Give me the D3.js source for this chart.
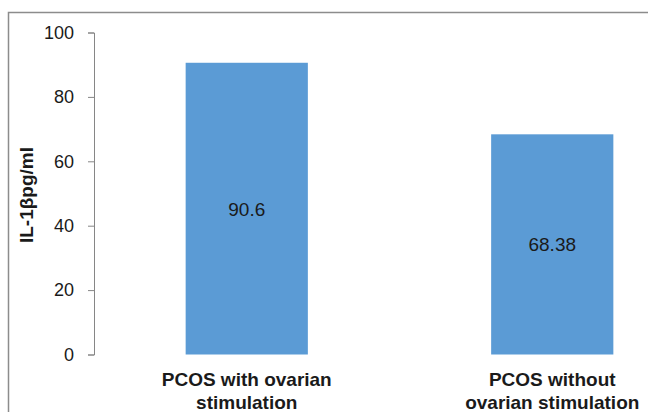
<!DOCTYPE html>
<html><head><meta charset="utf-8">
<script src="https://cdn.jsdelivr.net/npm/d3@7"></script>
<style>body{margin:0;background:#fff}svg{display:block}</style>
</head><body>
<svg id="c" width="648" height="412"></svg>
<script>
const categories = [["PCOS with ovarian","stimulation"],["PCOS without","ovarian stimulation"]];
const values = [90.6, 68.38];
const valueLabels = ["90.6", "68.38"];
const yTicks = [0, 20, 40, 60, 80, 100];
const yLabel = "IL-1βpg/ml";

const svg = d3.select("#c");
const font = "'Liberation Sans', Arial, sans-serif";
// chart border
svg.append("rect").attr("x", 8.5).attr("y", 12.5).attr("width", 700).attr("height", 420)
  .attr("fill", "none").attr("stroke", "#8c8c8c").attr("stroke-width", 1.5);

const y = d3.scaleLinear().domain([0, 100]).range([354.5, 32.5]);
const x = d3.scaleBand().domain(d3.range(categories.length)).range([94, 705])
  .paddingInner(0.6).paddingOuter(0.3);

svg.selectAll("rect.bar").data(values).join("rect").attr("class", "bar")
  .attr("x", (d, i) => x(i)).attr("width", x.bandwidth())
  .attr("y", d => y(d)).attr("height", d => y(0) - y(d))
  .attr("fill", "#5B9BD5");

const ax = svg.append("g").attr("transform", "translate(94,0)")
  .call(d3.axisLeft(y).tickValues(yTicks).tickSize(6).tickPadding(14));
ax.select(".domain").attr("stroke", "#868686");
ax.selectAll(".tick line").attr("stroke", "#868686");
ax.selectAll(".tick text").attr("font-family", font).attr("font-size", 18).attr("fill", "#1a1a1a");

svg.selectAll("text.val").data(values).join("text").attr("class", "val")
  .attr("x", (d, i) => x(i) + x.bandwidth() / 2)
  .attr("y", d => (y(d) + y(0)) / 2 + 7)
  .attr("text-anchor", "middle").attr("font-family", font).attr("font-size", 19)
  .attr("fill", "#1a1a1a").text((d, i) => valueLabels[i]);

categories.forEach((lines, i) => {
  const cx = x(i) + x.bandwidth() / 2;
  lines.forEach((l, j) => {
    svg.append("text").attr("x", cx).attr("y", 386 + j * 22.5)
      .attr("text-anchor", "middle").attr("font-family", font).attr("font-weight", "bold")
      .attr("font-size", 19).attr("fill", "#1a1a1a").text(l);
  });
});

svg.append("text").attr("transform", "translate(33,195) rotate(-90)")
  .attr("text-anchor", "middle").attr("font-family", font).attr("font-weight", "bold")
  .attr("font-size", 19).attr("fill", "#1a1a1a").text(yLabel);
</script>
</body></html>
